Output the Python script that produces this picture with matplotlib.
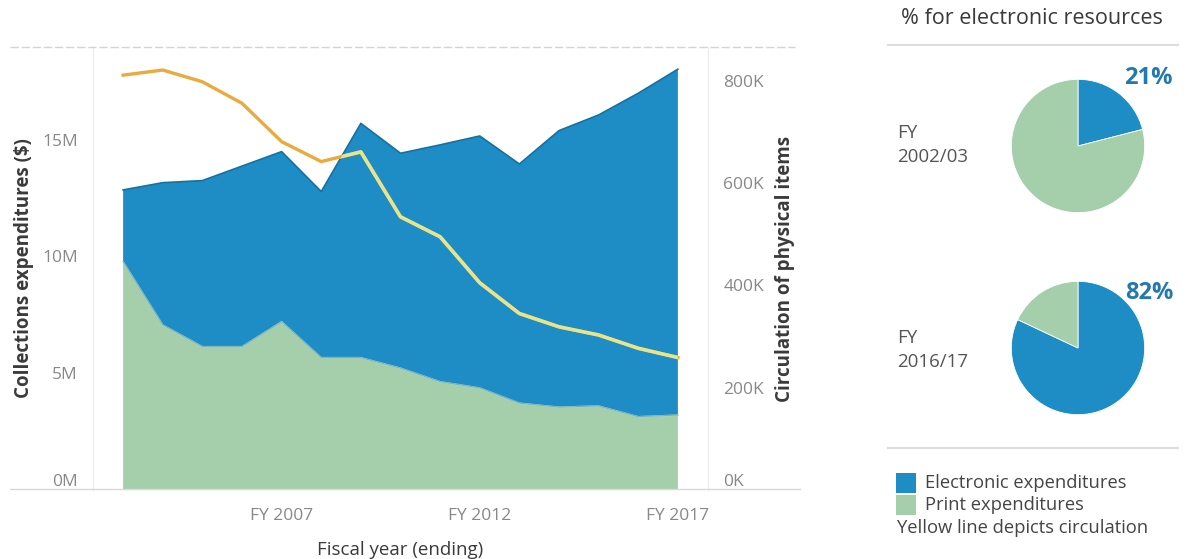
import numpy as np
import matplotlib.pyplot as plt
from matplotlib.lines import Line2D

plt.rcParams['font.family'] = ['Open Sans', 'DejaVu Sans']

years = list(range(2003, 2018))
# expenditures in $M
print_exp = [9.78, 7.07, 6.14, 6.14, 7.21, 5.67, 5.67, 5.22, 4.64, 4.37, 3.72, 3.55, 3.60, 3.14, 3.21]
electronic_exp = [3.07, 6.09, 7.11, 7.73, 7.28, 7.11, 10.03, 9.20, 10.14, 10.79, 10.24, 11.84, 12.46, 13.85, 14.81]
# circulation of physical items in K
circulation = [811, 821, 798, 756, 681, 642, 661, 534, 495, 405, 345, 319, 303, 277, 259]

left_ticks = [0, 5, 10, 15]
left_labels = ['0M', '5M', '10M', '15M']
right_ticks = [0, 200, 400, 600, 800]
right_labels = ['0K', '200K', '400K', '600K', '800K']
x_ticks = [2007, 2012, 2017]
x_labels = ['FY 2007', 'FY 2012', 'FY 2017']

pie_years = ['FY\n2002/03', 'FY\n2016/17']
pie_electronic = [21, 82]

blue = '#1e8dc6'
blue_edge = '#15729f'
green = '#a4cfaa'
yellow = '#eaaa3c'
pale_yellow = '#e6e48e'
tick_col = '#888888'
title_col = '#3a3a3a'

fig = plt.figure(figsize=(11.88, 5.59), dpi=100)

ax = fig.add_axes([93/1188, 1-490/559, (708-93)/1188, (490-47)/559])
polys = ax.stackplot(years, print_exp, electronic_exp, colors=[green, blue], linewidth=0)
total = np.array(print_exp) + np.array(electronic_exp)
ax.plot(years, total, color=blue_edge, lw=1.2)
ax.plot(years, print_exp, color='#d8ecd6', lw=1.0)
ax.plot(years, print_exp, color=blue_edge, lw=0.8, alpha=0.5)
ax.set_xlim(2002.24, 2017.76)
ax.set_ylim(0, 18.97)

ax.set_yticks(left_ticks)
ax.set_yticklabels(left_labels)
ax.get_yticklabels()[0].set_verticalalignment('bottom')
ax.set_xticks(x_ticks)
ax.set_xticklabels(x_labels)
ax.tick_params(axis='both', length=0, colors=tick_col, labelsize=12.5)
ax.tick_params(axis='y', pad=11)
ax.tick_params(axis='x', pad=13)
for s in ['top', 'right', 'bottom']:
    ax.spines[s].set_visible(False)
ax.spines['left'].set_color('#ececec')
ax.set_ylabel('Collections expenditures ($)', fontsize=13.5, fontweight='bold',
              color=title_col, labelpad=6)
ax.set_xlabel('Fiscal year (ending)', fontsize=13.5, color=title_col, labelpad=12)

ax2 = ax.twinx()
ax2.plot(years, circulation, color=yellow, lw=2.4)
# over the blue area the line looks pale
inner, = ax2.plot(years, circulation, color=pale_yellow, lw=2.6)
inner.set_clip_path(polys[1].get_paths()[0], transform=ax.transData)
ax2.set_ylim(0, 866)
ax2.set_yticks(right_ticks)
ax2.set_yticklabels(right_labels)
ax2.get_yticklabels()[0].set_verticalalignment('bottom')
ax2.tick_params(axis='y', length=0, colors=tick_col, labelsize=12.5, pad=11)
for s in ['top', 'left', 'bottom']:
    ax2.spines[s].set_visible(False)
ax2.spines['right'].set_color('#ececec')
ax2.set_ylabel('Circulation of physical items', fontsize=13.5, fontweight='bold',
               color=title_col, labelpad=8)

# header and baseline rules
fig.add_artist(Line2D([10/1188, 795/1188], [1-47/559, 1-47/559], color='#d4d4d4',
                      lw=1, ls=(0, (6, 2))))
fig.add_artist(Line2D([10/1188, 800/1188], [1-489/559, 1-489/559], color='#d8d8d8', lw=1))

# right panel
fig.text(1032/1188, 1-18/559, '% for electronic resources', fontsize=15.5,
         color=title_col, ha='center', va='center')
fig.add_artist(Line2D([888/1188, 1178/1188], [1-45/559, 1-45/559], color='#dddddd',
                      lw=1.5))

centers_y = [146, 348]
label_y = [145, 350]
pct_y = [78, 293]
for i in range(2):
    cy = centers_y[i]
    pax = fig.add_axes([(1078-68)/1188, 1-(cy+68)/559, 136/1188, 136/559])
    pax.pie([pie_electronic[i], 100-pie_electronic[i]], colors=[blue, green],
            startangle=90, counterclock=False,
            wedgeprops=dict(linewidth=0.6, edgecolor='white'))
    pax.set_xlim(-1.02, 1.02)
    pax.set_ylim(-1.02, 1.02)
    pax.set_aspect('equal')
    pax.axis('off')
    fig.text(897/1188, 1-label_y[i]/559, pie_years[i], fontsize=13.5, color='#555555',
             ha='left', va='center', linespacing=1.45)
    fig.text(1173/1188, 1-pct_y[i]/559, f'{pie_electronic[i]}%', fontsize=17,
             color='#2179b0', fontweight='bold', ha='right', va='center')

fig.add_artist(Line2D([888/1188, 1178/1188], [1-448/559, 1-448/559], color='#dddddd',
                      lw=1.5))

legend_items = [('Electronic expenditures', blue), ('Print expenditures', green)]
for j, (name, col) in enumerate(legend_items):
    yy = 483 + 22*j
    fig.patches.append(plt.Rectangle((896/1188, 1-(yy+10)/559), 20/1188, 20/559,
                                     transform=fig.transFigure, facecolor=col,
                                     edgecolor='none'))
    fig.text(925/1188, 1-yy/559, name, fontsize=13.2, color='#444444',
             ha='left', va='center')
fig.text(897/1188, 1-528/559, 'Yellow line depicts circulation', fontsize=13.2,
         color='#444444', ha='left', va='center')

plt.savefig('out.png', dpi=100)
